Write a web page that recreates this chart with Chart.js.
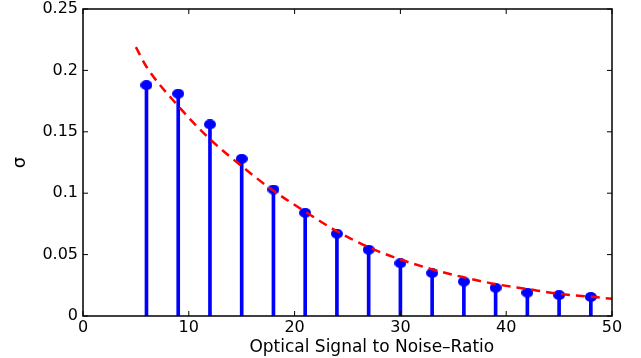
<!DOCTYPE html>
<html>
<head>
<meta charset="utf-8">
<script src="https://cdn.jsdelivr.net/npm/chart.js@4/dist/chart.umd.min.js"></script>
<style>
  html, body { margin: 0; padding: 0; background: #fff; }
  #wrap { width: 641px; height: 358px; }
</style>
</head>
<body>
<div id="wrap"><canvas id="sigmaChart"></canvas></div>
<script>
// measured sigma at each OSNR (stem plot)
const osnr = [6, 9, 12, 15, 18, 21, 24, 27, 30, 33, 36, 39, 42, 45, 48];
const sigma = [0.188, 0.181, 0.156, 0.128, 0.103, 0.084, 0.067, 0.054, 0.043, 0.035, 0.028, 0.023, 0.019, 0.017, 0.0155];

// fitted curve (red dashed)
const fitX = [5, 6, 9, 12, 15, 18, 21, 24, 27, 30, 33, 36, 39, 42, 45, 48, 50];
const fitY = [0.219, 0.203, 0.171, 0.144, 0.122, 0.102, 0.085, 0.069, 0.056, 0.046, 0.038, 0.0315, 0.026, 0.022, 0.018, 0.0157, 0.014];

const xTicks = [0, 10, 20, 30, 40, 50];
const yTicks = [0, 0.05, 0.1, 0.15, 0.2, 0.25];

const tickFont = { family: 'DejaVu Sans', size: 16 };

// slightly wide dot, like the stretched original
const dot = document.createElement('canvas');
dot.width = 12; dot.height = 10;
(function () {
    const c = dot.getContext('2d');
    c.fillStyle = '#0000ff';
    c.beginPath();
    c.ellipse(6, 5, 6, 5, 0, 0, Math.PI * 2);
    c.fill();
})();

// MATLAB-like box with inward ticks on all four sides
const boxPlugin = {
    id: 'box',
    afterDraw(chart) {
        const { ctx, chartArea: a, scales } = chart;
        ctx.save();
        ctx.strokeStyle = '#000';
        ctx.lineWidth = 1.5;
        ctx.strokeRect(a.left, a.top, a.right - a.left, a.bottom - a.top);
        ctx.lineWidth = 1;
        const len = 5;
        xTicks.forEach(v => {
            const px = scales.x.getPixelForValue(v);
            ctx.beginPath();
            ctx.moveTo(px, a.bottom); ctx.lineTo(px, a.bottom - len);
            ctx.moveTo(px, a.top); ctx.lineTo(px, a.top + len);
            ctx.stroke();
        });
        yTicks.forEach(v => {
            const py = scales.y.getPixelForValue(v);
            ctx.beginPath();
            ctx.moveTo(a.left, py); ctx.lineTo(a.left + len, py);
            ctx.moveTo(a.right, py); ctx.lineTo(a.right - len, py);
            ctx.stroke();
        });
        ctx.restore();
    }
};

new Chart(document.getElementById('sigmaChart'), {
    type: 'bar',
    data: {
        datasets: [
            {
                type: 'line',
                label: 'fit',
                data: fitX.map((x, i) => ({ x, y: fitY[i] })),
                borderColor: '#ff0000',
                borderWidth: 2.5,
                borderDash: [9, 6],
                pointRadius: 0,
                cubicInterpolationMode: 'monotone',
                fill: false,
                order: 0
            },
            {
                type: 'scatter',
                label: 'dots',
                data: osnr.map((x, i) => ({ x, y: sigma[i] })),
                pointStyle: dot,
                order: 1
            },
            {
                type: 'bar',
                label: 'stems',
                data: osnr.map((x, i) => ({ x, y: sigma[i] })),
                backgroundColor: '#0000ff',
                barThickness: 3,
                order: 2
            }
        ]
    },
    options: {
        responsive: true,
        maintainAspectRatio: false,
        animation: false,
        layout: { padding: { top: 9, right: 29, left: 0, bottom: 0 } },
        plugins: { legend: { display: false }, tooltip: { enabled: false } },
        scales: {
            x: {
                type: 'linear',
                min: 0, max: 50,
                offset: false,
                grid: { display: false, drawTicks: false },
                border: { display: false },
                afterBuildTicks: s => { s.ticks = xTicks.map(v => ({ value: v })); },
                afterFit: s => { s.height = 42; s.paddingLeft = 0; s.paddingRight = 0; },
                ticks: { font: tickFont, color: '#000', padding: 2, maxRotation: 0 },
                title: {
                    display: true,
                    text: '\u00a0\u00a0\u00a0\u00a0\u00a0\u00a0\u00a0\u00a0\u00a0Optical Signal to Noise\u2013Ratio',
                    font: { family: 'DejaVu Sans', size: 17 },
                    color: '#000',
                    padding: { top: -5, bottom: 0 }
                }
            },
            y: {
                min: 0, max: 0.25,
                grid: { display: false, drawTicks: false },
                border: { display: false },
                afterBuildTicks: s => { s.ticks = yTicks.map(v => ({ value: v })); },
                afterFit: s => { s.width = 83; s.paddingTop = 0; s.paddingBottom = 0; },
                ticks: {
                    font: tickFont, color: '#000', padding: 5,
                    callback: v => String(v)
                },
                title: {
                    display: true,
                    text: '\u03c3',
                    font: { family: 'DejaVu Sans', size: 18 },
                    color: '#000',
                    padding: { top: 10, bottom: 4 }
                }
            }
        }
    },
    plugins: [boxPlugin]
});
</script>
</body>
</html>
